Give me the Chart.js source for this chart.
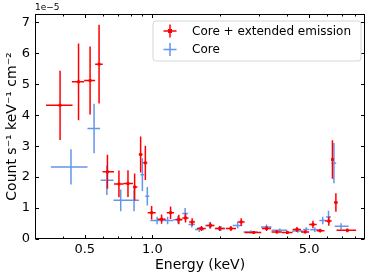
<!DOCTYPE html>
<html>
<head>
<meta charset="utf-8">
<script src="https://cdn.jsdelivr.net/npm/chart.js@4.4.0/dist/chart.umd.min.js"></script>
<style>
html, body { margin: 0; padding: 0; background: #fff; }
</style>
</head>
<body>
<canvas id="spectrum" width="373" height="278"></canvas>
<script>
// Core + extended emission (flux in units of 1e-5)
const redEnergy = [0.388,0.469,0.528,0.579,0.631,0.71,0.779,0.834,0.887,0.931,0.993,1.1,1.206,1.313,1.406,1.505,1.656,1.816,1.996,2.24,2.49,2.83,3.23,3.59,4.0,4.41,4.80,5.2,5.6,6.12,6.35,6.58,7.4];
const redLo = [0.336,0.438,0.497,0.556,0.600,0.675,0.745,0.82,0.87,0.91,0.953,1.055,1.16,1.27,1.36,1.46,1.58,1.74,1.9,2.13,2.4,2.58,3.08,3.4,3.78,4.22,4.6,5.0,5.4,5.9,6.3,6.45,6.62];
const redHi = [0.441,0.497,0.556,0.601,0.675,0.745,0.82,0.858,0.905,0.95,1.035,1.146,1.25,1.36,1.45,1.55,1.73,1.89,2.1,2.36,2.58,3.06,3.38,3.78,4.22,4.6,5.0,5.4,5.85,6.3,6.42,6.7,8.1];
const redFlux = [4.32,5.08,5.12,5.65,2.17,1.78,1.79,1.68,2.73,2.46,0.85,0.64,0.85,0.63,0.68,0.55,0.34,0.44,0.34,0.34,0.55,0.21,0.34,0.23,0.21,0.31,0.23,0.47,0.27,0.58,2.57,1.18,0.28];
const redErr = [1.12,1.24,1.1,1.27,0.55,0.43,0.43,0.44,0.58,0.55,0.22,0.15,0.2,0.15,0.15,0.12,0.08,0.1,0.08,0.08,0.12,0.05,0.08,0.05,0.05,0.08,0.05,0.12,0.06,0.15,0.62,0.3,0.06];

// Core only
const blueEnergy = [0.434,0.55,0.627,0.723,0.829,0.903,0.95,1.05,1.17,1.3,1.4,1.5,1.62,1.8,2.02,2.4,2.75,3.23,3.7,4.45,4.85,5.3,5.75,6.1,6.45,6.94];
const blueLo = [0.353,0.514,0.589,0.671,0.777,0.885,0.93,0.98,1.1,1.24,1.36,1.45,1.55,1.72,1.92,2.28,2.55,3.05,3.4,4.2,4.7,5.05,5.55,5.95,6.3,6.5];
const blueHi = [0.514,0.585,0.671,0.777,0.872,0.92,0.97,1.1,1.24,1.36,1.44,1.55,1.7,1.88,2.12,2.52,2.95,3.4,4.0,4.7,5.0,5.55,5.95,6.25,6.6,7.5];
const blueFlux = [2.33,3.57,1.9,1.25,1.25,2.08,1.38,0.6,0.6,0.62,0.82,0.47,0.31,0.44,0.34,0.44,0.23,0.39,0.28,0.26,0.31,0.3,0.6,0.71,2.45,0.41];
const blueErr = [0.57,0.8,0.48,0.35,0.35,0.53,0.3,0.12,0.12,0.12,0.18,0.1,0.08,0.1,0.08,0.1,0.05,0.08,0.06,0.06,0.07,0.07,0.12,0.2,0.65,0.1];

// Axis ticks
const xTickValues = [0.4,0.5,0.6,0.7,0.8,0.9,1,2,3,4,5,6,7,8];
const xTickLabels = { 0.5: '0.5', 1: '1.0', 5: '5.0' };
const yTickValues = [0,1,2,3,4,5,6,7];

const FONT = "'DejaVu Sans', sans-serif";

function toPoints(e, lo, hi, f, err) {
    return e.map((v, i) => ({ x: v, y: f[i], xlo: lo[i], xhi: hi[i], err: err[i] }));
}

// error bars drawn just before each dataset's own points
const errorBars = {
    id: 'errorBars',
    beforeDatasetDraw(chart, args) {
        const { ctx, scales: { x, y } } = chart;
        const ds = chart.data.datasets[args.index];
        ctx.save();
        ctx.strokeStyle = ds.borderColor;
        ctx.lineWidth = 1.5;
        ctx.beginPath();
        ds.data.forEach(p => {
            const px = x.getPixelForValue(p.x);
            const py = y.getPixelForValue(p.y);
            ctx.moveTo(x.getPixelForValue(p.xlo), py);
            ctx.lineTo(x.getPixelForValue(p.xhi), py);
            ctx.moveTo(px, y.getPixelForValue(p.y - p.err));
            ctx.lineTo(px, y.getPixelForValue(p.y + p.err));
        });
        ctx.stroke();
        ctx.restore();
    }
};

// matplotlib-like frame, inward ticks, offset text and legend
const frameAndLegend = {
    id: 'frameAndLegend',
    afterDraw(chart) {
        const { ctx, chartArea: a, scales: { x, y } } = chart;
        const L = Math.round(a.left) + 0.5, R = Math.round(a.right) - 0.5;
        const T = Math.round(a.top) + 0.5, B = Math.round(a.bottom) - 0.5;
        ctx.save();
        ctx.strokeStyle = '#000';
        ctx.lineWidth = 1;
        ctx.strokeRect(L, T, R - L, B - T);
        ctx.beginPath();
        yTickValues.forEach(v => {
            const py = Math.round(y.getPixelForValue(v)) + 0.5;
            ctx.moveTo(L, py); ctx.lineTo(L + 3.5, py);
            ctx.moveTo(R, py); ctx.lineTo(R - 3.5, py);
        });
        xTickValues.forEach(v => {
            const px = Math.round(x.getPixelForValue(v)) + 0.5;
            const len = xTickLabels[v] ? 3.5 : 2;
            ctx.moveTo(px, B); ctx.lineTo(px, B - len);
            ctx.moveTo(px, T); ctx.lineTo(px, T + len);
        });
        ctx.stroke();

        ctx.fillStyle = '#000';
        ctx.font = '9px ' + FONT;
        ctx.textAlign = 'left';
        ctx.textBaseline = 'bottom';
        ctx.fillText('1e\u22125', a.left, a.top - 2);

        // legend box
        const bx = 153, by = 21, bw = 208, bh = 40, r = 3;
        ctx.beginPath();
        ctx.moveTo(bx + r, by);
        ctx.arcTo(bx + bw, by, bx + bw, by + bh, r);
        ctx.arcTo(bx + bw, by + bh, bx, by + bh, r);
        ctx.arcTo(bx, by + bh, bx, by, r);
        ctx.arcTo(bx, by, bx + bw, by, r);
        ctx.closePath();
        ctx.fillStyle = 'rgba(255,255,255,0.8)';
        ctx.fill();
        ctx.strokeStyle = '#d6d6d6';
        ctx.stroke();

        ctx.font = '12px ' + FONT;
        ctx.textBaseline = 'middle';
        chart.data.datasets.forEach((ds, i) => {
            const cy = 31 + i * 18.5, cx = 170;
            ctx.strokeStyle = ds.borderColor;
            ctx.lineWidth = 1.5;
            ctx.beginPath();
            ctx.moveTo(cx - 6.5, cy); ctx.lineTo(cx + 6.5, cy);
            ctx.moveTo(cx, cy - 6.5); ctx.lineTo(cx, cy + 6.5);
            ctx.stroke();
            if (ds.pointRadius > 0) {
                ctx.fillStyle = ds.borderColor;
                ctx.fillRect(cx - 2, cy - 2, 4, 4);
            }
            ctx.fillStyle = '#000';
            ctx.fillText(ds.label, 192, cy + 0.5);
        });
        ctx.restore();
    }
};

new Chart(document.getElementById('spectrum'), {
    type: 'scatter',
    data: {
        datasets: [
            {
                label: 'Core + extended emission',
                data: toPoints(redEnergy, redLo, redHi, redFlux, redErr),
                borderColor: '#ff0000',
                backgroundColor: '#ff0000',
                pointStyle: 'rect',
                pointRadius: 2,
                borderWidth: 0
            },
            {
                label: 'Core',
                data: toPoints(blueEnergy, blueLo, blueHi, blueFlux, blueErr),
                borderColor: '#6495ed',
                backgroundColor: '#6495ed',
                pointRadius: 0,
                borderWidth: 0
            }
        ]
    },
    options: {
        responsive: false,
        devicePixelRatio: 1,
        animation: false,
        layout: { padding: { left: 0, right: 8, top: 14, bottom: 0 } },
        plugins: { legend: { display: false }, tooltip: { enabled: false } },
        scales: {
            x: {
                type: 'logarithmic',
                min: 0.302,
                max: 8.87,
                afterBuildTicks: s => { s.ticks = xTickValues.map(v => ({ value: v })); },
                afterFit: s => { s.height = 39; },
                grid: { display: false, drawTicks: false },
                border: { display: false },
                ticks: {
                    autoSkip: false, maxRotation: 0, padding: 3,
                    color: '#000', font: { family: FONT, size: 13 },
                    callback: v => xTickLabels[v] || null
                },
                title: {
                    display: true, text: 'Energy (keV)', color: '#000',
                    font: { family: FONT, size: 14 }, padding: { top: 0, bottom: 4 }
                }
            },
            y: {
                min: 0,
                max: 7.27,
                afterBuildTicks: s => { s.ticks = yTickValues.map(v => ({ value: v })); },
                afterFit: s => { s.width = 35; },
                grid: { display: false, drawTicks: false },
                border: { display: false },
                ticks: {
                    padding: 5, color: '#000', font: { family: FONT, size: 13 },
                    callback: v => String(v)
                },
                title: {
                    display: true, text: 'Count s\u207B\u00B9 keV\u207B\u00B9 cm\u207B\u00B2', color: '#000',
                    font: { family: FONT, size: 14 }, padding: { top: 4, bottom: 0 }
                }
            }
        }
    },
    plugins: [errorBars, frameAndLegend]
});
</script>
</body>
</html>
